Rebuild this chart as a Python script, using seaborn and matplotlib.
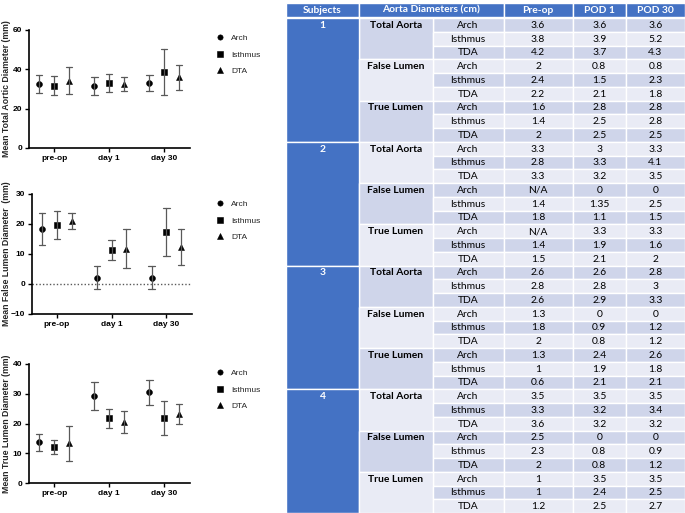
import pandas as pd
import matplotlib
matplotlib.use("Agg")
import matplotlib.pyplot as plt
from matplotlib.lines import Line2D
from matplotlib.patches import Rectangle
import seaborn as sns

# ---------------- chart data (mm), rows = site, cols = time point ----------------
times = ["pre-op", "day 1", "day 30"]
sites = ["Arch", "Isthmus", "DTA"]

total_mean = [[32.45, 31.7, 33.2], [31.75, 33.1, 38.7], [34.2, 32.55, 35.85]]
total_sd = [[4.55, 4.5, 4.0], [4.75, 4.5, 11.8], [6.8, 3.35, 6.15]]

false_mean = [[18.25, 2.1, 2.1], [19.7, 11.3, 17.2], [21.0, 11.8, 12.25]]
false_sd = [[5.35, 3.9, 3.9], [4.7, 3.3, 8.0], [2.6, 6.5, 6.05]]

true_mean = [[13.7, 29.25, 30.45], [12.0, 21.7, 21.75], [13.3, 20.55, 23.2]]
true_sd = [[2.8, 4.55, 4.15], [2.3, 3.2, 5.65], [5.8, 3.65, 3.3]]

# ---------------- table data (cm) ----------------
subjects = ["1", "2", "3", "4"]
groups = ["Total Aorta", "False Lumen", "True Lumen"]
table_sites = ["Arch", "Isthmus", "TDA"]
table_header = ["Subjects", "Aorta Diameters (cm)", "Pre-op", "POD 1", "POD 30"]

pre_op = ["3.6", "3.8", "4.2", "2", "2.4", "2.2", "1.6", "1.4", "2",
          "3.3", "2.8", "3.3", "N/A", "1.4", "1.8", "N/A", "1.4", "1.5",
          "2.6", "2.8", "2.6", "1.3", "1.8", "2", "1.3", "1", "0.6",
          "3.5", "3.3", "3.6", "2.5", "2.3", "2", "1", "1", "1.2"]
pod_1 = ["3.6", "3.9", "3.7", "0.8", "1.5", "2.1", "2.8", "2.5", "2.5",
         "3", "3.3", "3.2", "0", "1.35", "1.1", "3.3", "1.9", "2.1",
         "2.6", "2.8", "2.9", "0", "0.9", "0.8", "2.4", "1.9", "2.1",
         "3.5", "3.2", "3.2", "0", "0.8", "0.8", "3.5", "2.4", "2.5"]
pod_30 = ["3.6", "5.2", "4.3", "0.8", "2.3", "1.8", "2.8", "2.8", "2.5",
          "3.3", "4.1", "3.5", "0", "2.5", "1.5", "3.3", "1.6", "2",
          "2.8", "3", "3.3", "0", "1.2", "1.2", "2.6", "1.8", "2.1",
          "3.5", "3.4", "3.2", "0", "0.9", "1.2", "3.5", "2.5", "2.7"]

sns.set_theme(style="ticks")
plt.rcParams["font.family"] = ["Liberation Sans", "DejaVu Sans"]

W, H = 685, 513
fig = plt.figure(figsize=(W / 100, H / 100), dpi=100)


def px_axes(l, t, r, b):
    return fig.add_axes([l / W, 1 - b / H, (r - l) / W, (b - t) / H])


def long_frame(means, sds):
    # two observations per cell (mean -/+ sd) so that seaborn's mean and
    # full-range interval give the point and its error bar
    rows = []
    for si, site in enumerate(sites):
        for ti, t in enumerate(times):
            m, s = means[si][ti], sds[si][ti]
            rows.append((t, site, m - s))
            rows.append((t, site, m + s))
    return pd.DataFrame(rows, columns=["time", "site", "value"])


def draw_panel(box, means, sds, ylim, yticks, ylabel, legend_top, zero_line=False):
    ax = px_axes(*box)
    df = long_frame(means, sds)
    sns.pointplot(data=df, x="time", y="value", hue="site", order=times,
                  hue_order=sites, estimator="mean", errorbar=("pi", 100),
                  dodge=0.54, markers=["o", "s", "^"], linestyle="none",
                  palette={s: "black" for s in sites}, capsize=0.12,
                  err_kws={"color": "0.35", "linewidth": 0.9},
                  markersize=4.2, markeredgewidth=0.4, legend=False, ax=ax)
    if zero_line:
        ax.axhline(0, color="0.35", linestyle=(0, (1, 1.5)), linewidth=1, zorder=0)
    unit = (box[2] - box[0])
    ax.set_xlim(-0.455, 2.47)
    ax.set_ylim(*ylim)
    ax.set_yticks(yticks)
    ax.set_xlabel("")
    ax.set_ylabel(ylabel, fontsize=6.3, fontweight="bold")
    ax.yaxis.set_label_coords((11 - box[0]) / unit, 0.5)
    sns.despine(ax=ax)
    for sp in ["left", "bottom"]:
        ax.spines[sp].set_linewidth(1.2)
        ax.spines[sp].set_color("black")
    ax.tick_params(axis="both", labelsize=6, length=3, width=1, pad=2, colors="black")
    for lab in ax.get_xticklabels() + ax.get_yticklabels():
        lab.set_fontweight("bold")
    ax.set_facecolor("none")

    handles = [Line2D([], [], marker=m, color="black", linestyle="none",
                      markersize=3.8, markeredgewidth=0.4)
               for m in ["o", "s", "^"]]
    ax.legend(handles, sites, loc="upper left", frameon=False, fontsize=6,
              bbox_to_anchor=(212 / W, 1 - legend_top / H), bbox_transform=fig.transFigure,
              handletextpad=0.9, labelspacing=1.05, handlelength=1.0, borderaxespad=0)
    return ax


draw_panel((29, 30, 190, 148), total_mean, total_sd, (0, 60), [0, 20, 40, 60],
           "Mean Total Aortic Diameter (mm)", 31)
draw_panel((32, 194, 192, 314), false_mean, false_sd, (-10, 30), [-10, 0, 10, 20, 30],
           "Mean False Lumen Diameter  (mm)", 197, zero_line=True)
draw_panel((29, 364, 190, 483), true_mean, true_sd, (0, 40), [0, 10, 20, 30, 40],
           "Mean True Lumen Diameter (mm)", 366)

# ---------------- table ----------------
tax = fig.add_axes([285 / W, 0, (W - 285) / W, 1])
tax.set_xlim(285, W)
tax.set_ylim(H, 0)
tax.axis("off")

blue = "#4472C4"
dark = "#CFD5EA"
light = "#E9EBF5"
tfont = ["Lato", "DejaVu Sans"]
fs = 7.4

col_edges = [286, 359, 432.5, 503.5, 572.5, 626, 685]
header_top, header_bot = 3, 16.5
row_top = 18
rh = (H - row_top) / 36


def cell(x0, x1, y0, y1, color):
    tax.add_patch(Rectangle((x0, y0), x1 - x0, y1 - y0, facecolor=color,
                            edgecolor="white", linewidth=1.0))


# header row
hspans = [(0, 1), (1, 3), (3, 4), (4, 5), (5, 6)]
for (a, b), txt in zip(hspans, table_header):
    cell(col_edges[a], col_edges[b], header_top, header_bot, blue)
    tax.text((col_edges[a] + col_edges[b]) / 2, (header_top + header_bot) / 2 + 0.5, txt,
             ha="center", va="center", color="white", fontsize=fs,
             fontweight="bold", family=tfont)

values = [pre_op, pod_1, pod_30]
for i in range(36):
    y0 = row_top + i * rh
    y1 = y0 + rh
    band = dark if i % 2 == 0 else light
    yc = (y0 + y1) / 2 + 0.4
    # site + values
    cell(col_edges[2], col_edges[3], y0, y1, band)
    tax.text((col_edges[2] + col_edges[3]) / 2, yc, table_sites[i % 3], ha="center",
             va="center", fontsize=fs, family=tfont, color="black")
    for k in range(3):
        cell(col_edges[3 + k], col_edges[4 + k], y0, y1, band)
        tax.text((col_edges[3 + k] + col_edges[4 + k]) / 2, yc, values[k][i],
                 ha="center", va="center", fontsize=fs, family=tfont, color="black")
    # merged group cell
    if i % 3 == 0:
        cell(col_edges[1], col_edges[2], y0, y0 + 3 * rh, band)
        tax.text((col_edges[1] + col_edges[2]) / 2, yc, groups[(i // 3) % 3],
                 ha="center", va="center", fontsize=fs, family=tfont,
                 fontweight="bold", color="black")
    # merged subject cell
    if i % 9 == 0:
        cell(col_edges[0], col_edges[1], y0, y0 + 9 * rh, blue)
        tax.text((col_edges[0] + col_edges[1]) / 2, yc, subjects[i // 9],
                 ha="center", va="center", fontsize=fs, family=tfont,
                 fontweight="bold", color="white")

fig.savefig("out.png", dpi=100)
